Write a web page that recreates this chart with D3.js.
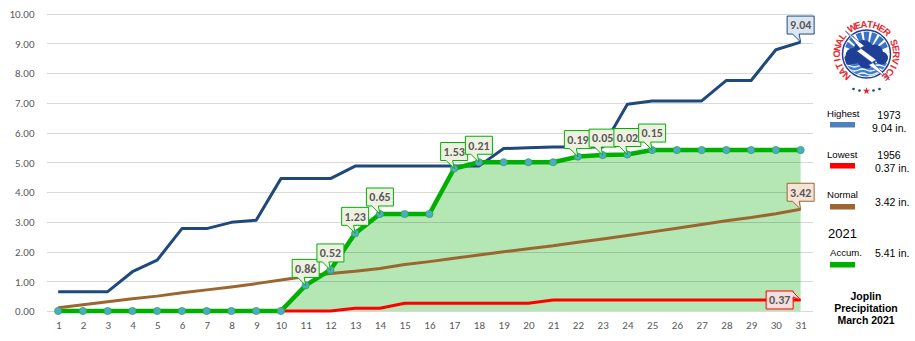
<!DOCTYPE html>
<html>
<head>
<meta charset="utf-8">
<script src="https://cdn.jsdelivr.net/npm/d3@7/dist/d3.min.js"></script>
<style>
  html, body { margin: 0; padding: 0; background: #fff; }
  svg { display: block; }
  .tick-label { font-family: Carlito, Lato, "Liberation Sans", sans-serif; font-size: 11px; fill: #595959; }
  .callout text { font-family: Carlito, Lato, "Liberation Sans", sans-serif; font-weight: bold; font-size: 12px; fill: #595959; }
  .legend text { font-family: "Liberation Sans", Arial, sans-serif; fill: #000; }
</style>
</head>
<body>
<svg id="chart" width="915" height="341"></svg>
<script>
// March days
const days = [1,2,3,4,5,6,7,8,9,10,11,12,13,14,15,16,17,18,19,20,21,22,23,24,25,26,27,28,29,30,31];

// Record wettest March (1973), cumulative inches
const highest = [0.65,0.65,0.65,1.32,1.71,2.77,2.77,2.98,3.05,4.45,4.45,4.45,4.87,4.87,4.87,4.87,4.87,4.87,5.46,5.49,5.51,5.51,5.51,6.95,7.06,7.06,7.06,7.75,7.75,8.78,9.04];

// Record driest March (1956), cumulative inches
const lowest = [0,0,0,0,0,0,0,0,0,0,0,0,0.09,0.09,0.26,0.26,0.26,0.26,0.26,0.26,0.37,0.37,0.37,0.37,0.37,0.37,0.37,0.37,0.37,0.37,0.37];

// Normal cumulative precipitation
const normal = [0.11,0.21,0.31,0.41,0.50,0.61,0.71,0.81,0.92,1.04,1.16,1.26,1.34,1.43,1.56,1.66,1.77,1.88,1.99,2.09,2.19,2.31,2.42,2.54,2.66,2.78,2.91,3.03,3.14,3.27,3.42];

// 2021 daily rainfall; the accumulation line is the running total of these
const daily2021 = [0,0,0,0,0,0,0,0,0,0,0.86,0.52,1.23,0.65,0,0,1.53,0.21,0,0,0,0.19,0.05,0.02,0.15,0,0,0,0,0,0];

const yTicks = [0,1,2,3,4,5,6,7,8,9,10];

// Legend content
const legendItems = [
  { name: "Highest", year: "1973", total: "9.04 in.", color: "#4F81BD" },
  { name: "Lowest",  year: "1956", total: "0.37 in.", color: "#FF0000" },
  { name: "Normal",  year: "",     total: "3.42 in.", color: "#9C6630" },
  { name: "Accum.",  year: "",     total: "5.41 in.", color: "#00B000" }
];
const titleLines = ["Joplin", "Precipitation", "March 2021"];
const agencyName = "NATIONAL WEATHER SERVICE";

const accum2021 = Array.from(d3.cumsum(daily2021));

const svg = d3.select("#chart");

const x = d3.scalePoint().domain(days).range([45.8, 813]).padding(0.5);
const y = d3.scaleLinear().domain([0, 10]).range([311, 13.5]);

const colors = {
  high: "#1F497D",
  low: "#FF0000",
  normal: "#9C6630",
  accum: "#00B000",
  area: "#B4E7B4",
  marker: "#4BACC6"
};

// Shaded area under the 2021 accumulation
svg.append("path")
  .datum(accum2021)
  .attr("fill", colors.area)
  .attr("d", d3.area()
    .x((d, i) => x(days[i]))
    .y0(y(0))
    .y1(d => y(d)));

// Horizontal gridlines
const grid = svg.append("g")
  .attr("transform", "translate(46.5,0)")
  .call(d3.axisLeft(y).tickValues(yTicks).tickSize(-(813 - 46.5)).tickFormat(""));
grid.select(".domain").remove();
grid.selectAll(".tick line").attr("stroke", "#000").attr("stroke-opacity", 0.15).attr("shape-rendering", "crispEdges");

// Y axis labels
const yAxis = svg.append("g")
  .attr("transform", "translate(46.5,0)")
  .call(d3.axisLeft(y).tickValues(yTicks).tickSize(0).tickPadding(12).tickFormat(d3.format(".2f")));
yAxis.select(".domain").remove();
yAxis.selectAll("text").attr("class", "tick-label").attr("dy", "0.34em");

// X axis labels
const xAxis = svg.append("g")
  .attr("transform", `translate(0,${y(0)})`)
  .call(d3.axisBottom(x).tickSize(0).tickPadding(10));
xAxis.select(".domain").remove();
xAxis.selectAll("text").attr("class", "tick-label").attr("dy", "0.71em");

const line = d3.line().x((d, i) => x(days[i])).y(d => y(d));

function drawLine(data, color, width) {
  svg.append("path")
    .datum(data)
    .attr("fill", "none")
    .attr("stroke", color)
    .attr("stroke-width", width)
    .attr("stroke-linejoin", "round")
    .attr("d", line);
}

drawLine(lowest, colors.low, 3);
drawLine(normal, colors.normal, 3);
drawLine(highest, colors.high, 3);
drawLine(accum2021, colors.accum, 4.5);

// 2021 daily markers
svg.append("g").selectAll("circle")
  .data(accum2021)
  .join("circle")
  .attr("cx", (d, i) => x(days[i]))
  .attr("cy", d => y(d))
  .attr("r", 3.6)
  .attr("fill", colors.marker)
  .attr("stroke", "#2FA84F")
  .attr("stroke-width", 0.8);

// Callout labels (boxes with a pointer wedge)
const calloutLayer = svg.append("g").attr("class", "callout");

function callout(px, py, label, fill, stroke, side) {
  const g = calloutLayer.append("g");
  const t = g.append("text").text(label);
  const tw = t.node().getComputedTextLength();
  const w = Math.round(tw + 6), h = 18;
  let x0, y0, d;
  if (side === "left") {
    x0 = px - 7.5 - w;
    y0 = py - h / 2;
    const x1 = x0 + w;
    d = `M${x0},${y0}H${x1}V${y0 + 1}L${px},${py}L${x1},${y0 + 6}V${y0 + h}H${x0}Z`;
  } else {
    x0 = px - w / 2;
    y0 = py - 8 - h;
    const x1 = x0 + w, y1 = y0 + h;
    d = `M${x0},${y0}H${x1}V${y1}H${px - 1.5}L${px},${py}L${px - 8},${y1}H${x0}Z`;
  }
  g.insert("path", "text")
    .attr("d", d)
    .attr("fill", fill)
    .attr("stroke", stroke)
    .attr("stroke-width", 1);
  t.attr("x", x0 + w / 2)
   .attr("y", y0 + h / 2)
   .attr("dy", "0.36em")
   .attr("text-anchor", "middle");
}

daily2021.forEach((v, i) => {
  if (v > 0) {
    callout(x(days[i]), y(accum2021[i]), d3.format(".2f")(v), "#EEF1E2", colors.accum, "above");
  }
});

const last = days.length - 1;
callout(x(days[last]), y(highest[last]), d3.format(".2f")(highest[last]), "#DCE6F2", colors.high, "above");
callout(x(days[last]), y(normal[last]), d3.format(".2f")(normal[last]), "#F6E4D6", colors.normal, "above");
callout(x(days[last]), y(lowest[last]), d3.format(".2f")(lowest[last]), "#F4DEDE", colors.low, "left");

// National Weather Service emblem
const logo = svg.append("g").attr("transform", "translate(866.5,54)");
const defs = svg.append("defs");
defs.append("clipPath").attr("id", "emblem-clip")
  .append("circle").attr("r", 22.5);

logo.append("circle").attr("r", 24).attr("fill", "#fff").attr("stroke", "#1F3E96").attr("stroke-width", 1.5);
const em = logo.append("g").attr("clip-path", "url(#emblem-clip)");
em.append("circle").attr("r", 22.5).attr("fill", "#fff");
// sun rays
[-60, -40, -20, 0, 20, 40, 60].forEach(a => {
  const r1 = a * Math.PI / 180;
  const w = 7 * Math.PI / 180;
  em.append("path")
    .attr("d", `M0,2L${30 * Math.sin(r1 - w)},${2 - 30 * Math.cos(r1 - w)}L${30 * Math.sin(r1 + w)},${2 - 30 * Math.cos(r1 + w)}Z`)
    .attr("fill", "#3A73C4");
});
// water
em.append("rect").attr("x", -25).attr("y", 9).attr("width", 50).attr("height", 20).attr("fill", "#3F7FCC");
[12, 16, 20].forEach(yy => {
  em.append("path")
    .attr("d", `M-24,${yy}q4,-2 8,0t8,0t8,0t8,0t8,0t8,0`)
    .attr("fill", "none").attr("stroke", "#fff").attr("stroke-width", 1.3);
});
// cloud
[[-13, 2, 8], [-3, -4, 10], [8, -1, 8.5], [15, 4, 6.5], [-18, 6, 5], [0, 5, 9.5]].forEach(c => {
  em.append("circle").attr("cx", c[0]).attr("cy", c[1]).attr("r", c[2]).attr("fill", "#1F3E96");
});
// lightning bolt
logo.append("path")
  .attr("d", "M-21,-23L-2,-8L-6,-6L10,6L6,8L23,26L2,11L6,9L-10,-3L-6,-5Z")
  .attr("fill", "#fff").attr("stroke", "#1F3E96").attr("stroke-width", 0.6);

// agency name around the ring, one glyph at a time
const ringR = 26.5;
const aStart = -138, aEnd = 140;
const chars = agencyName.split("");
chars.forEach((ch, i) => {
  if (ch === " ") return;
  const a = aStart + (aEnd - aStart) * i / (chars.length - 1);
  const rad = a * Math.PI / 180;
  logo.append("text")
    .attr("transform", `translate(${ringR * Math.sin(rad)},${-ringR * Math.cos(rad)}) rotate(${a})`)
    .attr("text-anchor", "middle")
    .attr("font-family", "'Liberation Sans', Arial, sans-serif")
    .attr("font-weight", "bold")
    .attr("font-size", 9.5)
    .attr("fill", "#E8262C")
    .text(ch);
});

[[-13, 35, "#1F3E96"], [-7, 36.5, "#1F3E96"], [7, 36.5, "#1F3E96"], [13, 35, "#1F3E96"]].forEach(p => {
  logo.append("circle").attr("cx", p[0]).attr("cy", p[1]).attr("r", 1.3).attr("fill", p[2]);
});
logo.append("path")
  .attr("d", d3.symbol().type(d3.symbolStar).size(16)())
  .attr("transform", "translate(0,37)")
  .attr("fill", "#E8262C");

// Legend
const legend = svg.append("g").attr("class", "legend");
const legendRows = [
  { label: 117, year: 119, total: 132, swatch: 122 },
  { label: 158, year: 159, total: 172, swatch: 163 },
  { label: 198, year: null, total: 205.5, swatch: 204 },
  { label: 256, year: null, total: 256.5, swatch: 262 }
];
legendItems.forEach((item, i) => {
  const r = legendRows[i];
  legend.append("text").attr("x", i === 3 ? 830 : 827).attr("y", r.label)
    .attr("font-size", 9.6).text(item.name);
  legend.append("rect").attr("x", 830).attr("y", r.swatch).attr("width", 25).attr("height", 5.5)
    .attr("fill", item.color);
  if (item.year) {
    legend.append("text").attr("x", 889).attr("y", r.year).attr("text-anchor", "middle")
      .attr("font-size", 10.5).text(item.year);
  }
  legend.append("text").attr("x", i === 0 ? 872 : 875).attr("y", r.total)
    .attr("font-size", 10.5).text(item.total);
});
legend.append("text").attr("x", 828).attr("y", 238).attr("font-size", 13).text("2021");

titleLines.forEach((t, i) => {
  legend.append("text").attr("x", 866).attr("y", 300 + i * 12)
    .attr("text-anchor", "middle").attr("font-size", 10.5).attr("font-weight", "bold").text(t);
});
</script>
</body>
</html>
